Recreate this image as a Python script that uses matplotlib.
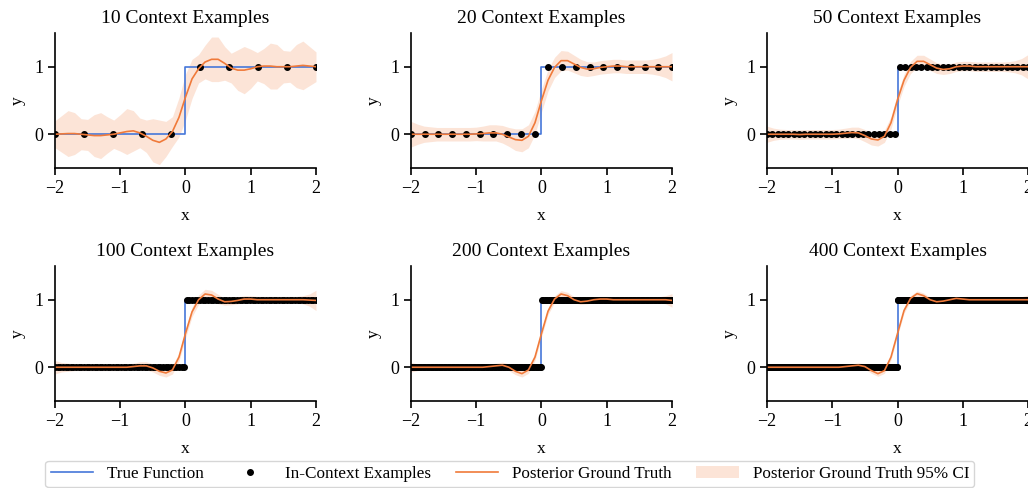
import numpy as np
import matplotlib
matplotlib.use('Agg')
import matplotlib.pyplot as plt

plt.rcParams['font.family'] = ['Liberation Serif', 'DejaVu Serif']
plt.rcParams['axes.unicode_minus'] = True

# context sizes shown in the six panels
n_context = [10, 20, 50, 100, 200, 400]

x_grid = np.round(np.linspace(-2, 2, 41), 2)

# true step function
x_true = [-2, 0, 0, 2]
y_true = [0, 0, 1, 1]

# posterior mean
mean_10 = [0.00, 0.005, 0.01, 0.01, 0.00, -0.01, -0.02, -0.02, -0.01, 0.00,
           0.02, 0.04, 0.05, 0.02, -0.03, -0.09, -0.12, -0.07, 0.04, 0.25,
           0.55, 0.82, 0.97, 1.07, 1.11, 1.11, 1.05, 0.98, 0.95, 0.95,
           0.97, 1.00, 1.01, 1.01, 1.00, 1.00, 1.00, 1.01, 1.02, 1.01, 1.00]
mean_20 = [0.00, 0.00, 0.00, 0.00, 0.00, 0.00, 0.00, 0.00, 0.00, 0.00,
           0.005, 0.01, 0.02, 0.02, 0.00, -0.04, -0.08, -0.09, -0.03, 0.17,
           0.50, 0.80, 0.99, 1.09, 1.09, 1.04, 0.99, 0.965, 0.97, 0.99,
           1.00, 1.01, 1.01, 1.00, 1.00, 1.00, 1.00, 1.00, 1.00, 1.00, 1.00]
mean_50 = [0.00, 0.00, 0.00, 0.00, 0.00, -0.005, 0.00, 0.00, 0.00, 0.00,
           0.00, 0.005, 0.015, 0.025, 0.02, -0.02, -0.07, -0.085, -0.03, 0.17,
           0.51, 0.80, 0.99, 1.08, 1.08, 1.03, 0.98, 0.96, 0.97, 1.00,
           1.01, 1.01, 1.00, 1.00, 1.00, 1.00, 1.00, 1.00, 1.00, 1.00, 1.00]
mean_100 = [0.00, 0.00, 0.00, 0.00, 0.00, 0.00, 0.00, 0.00, 0.00, 0.00,
            0.00, 0.00, 0.01, 0.02, 0.02, -0.01, -0.06, -0.085, -0.04, 0.15,
            0.50, 0.82, 1.00, 1.085, 1.07, 1.01, 0.97, 0.975, 0.99, 1.01,
            1.01, 1.00, 1.00, 1.00, 1.00, 1.00, 1.00, 1.00, 1.00, 0.995, 0.99]
mean_200 = [0.00, 0.00, 0.00, 0.00, 0.00, 0.00, 0.00, 0.00, 0.00, 0.00,
            0.00, 0.00, 0.01, 0.02, 0.03, 0.00, -0.06, -0.095, -0.04, 0.15,
            0.50, 0.83, 1.01, 1.085, 1.06, 1.00, 0.97, 0.98, 1.00, 1.01,
            1.01, 1.00, 1.00, 1.00, 1.00, 1.00, 1.00, 1.00, 1.00, 1.00, 0.99]
mean_400 = [0.00, 0.00, 0.00, 0.00, 0.00, 0.00, 0.00, 0.00, 0.00, 0.00,
            0.00, 0.00, 0.01, 0.02, 0.03, 0.01, -0.05, -0.095, -0.05, 0.15,
            0.50, 0.84, 1.02, 1.09, 1.06, 1.00, 0.97, 0.98, 1.00, 1.02,
            1.01, 1.00, 1.00, 1.00, 1.00, 1.00, 1.00, 1.00, 1.00, 1.00, 1.00]

# half-width of the 95% band
half_10 = [0.20, 0.27, 0.34, 0.31, 0.23, 0.23, 0.31, 0.34, 0.27, 0.21,
           0.27, 0.34, 0.30, 0.22, 0.24, 0.32, 0.33, 0.26, 0.22, 0.29,
           0.34, 0.29, 0.21, 0.25, 0.33, 0.33, 0.25, 0.22, 0.30, 0.35,
           0.29, 0.21, 0.26, 0.34, 0.33, 0.24, 0.23, 0.32, 0.36, 0.29, 0.22]
half_20 = [0.19, 0.15, 0.12, 0.11, 0.10, 0.10, 0.10, 0.10, 0.10, 0.10,
           0.10, 0.11, 0.12, 0.12, 0.13, 0.14, 0.16, 0.17, 0.17, 0.17,
           0.17, 0.16, 0.15, 0.15, 0.14, 0.13, 0.12, 0.11, 0.10, 0.10,
           0.10, 0.10, 0.10, 0.10, 0.10, 0.10, 0.10, 0.11, 0.13, 0.16, 0.21]
half_50 = [0.12, 0.09, 0.075, 0.07, 0.07, 0.07, 0.07, 0.07, 0.07, 0.07,
           0.07, 0.07, 0.075, 0.08, 0.085, 0.09, 0.09, 0.09, 0.09, 0.09,
           0.09, 0.09, 0.09, 0.09, 0.09, 0.085, 0.08, 0.075, 0.07, 0.07,
           0.07, 0.07, 0.07, 0.07, 0.07, 0.07, 0.07, 0.075, 0.09, 0.12, 0.18]
half_100 = [0.10, 0.07, 0.06, 0.05, 0.05, 0.05, 0.05, 0.05, 0.05, 0.05,
            0.05, 0.05, 0.05, 0.06, 0.06, 0.06, 0.06, 0.06, 0.06, 0.06,
            0.07, 0.07, 0.07, 0.07, 0.07, 0.07, 0.05, 0.05, 0.05, 0.05,
            0.05, 0.05, 0.05, 0.05, 0.05, 0.05, 0.05, 0.05, 0.06, 0.09, 0.15]
half_200 = [0.07, 0.05, 0.04, 0.04, 0.04, 0.04, 0.04, 0.04, 0.04, 0.04,
            0.04, 0.04, 0.04, 0.04, 0.045, 0.05, 0.05, 0.05, 0.05, 0.05,
            0.05, 0.05, 0.05, 0.05, 0.05, 0.045, 0.04, 0.04, 0.04, 0.04,
            0.04, 0.04, 0.04, 0.04, 0.04, 0.04, 0.04, 0.04, 0.045, 0.06, 0.10]
half_400 = [0.05, 0.04, 0.03, 0.03, 0.03, 0.03, 0.03, 0.03, 0.03, 0.03,
            0.03, 0.03, 0.03, 0.03, 0.035, 0.04, 0.04, 0.04, 0.04, 0.04,
            0.04, 0.04, 0.04, 0.04, 0.04, 0.035, 0.03, 0.03, 0.03, 0.03,
            0.03, 0.03, 0.03, 0.03, 0.03, 0.03, 0.03, 0.03, 0.035, 0.045, 0.07]

means = [mean_10, mean_20, mean_50, mean_100, mean_200, mean_400]
halves = [half_10, half_20, half_50, half_100, half_200, half_400]

blue = '#4677d9'
orange = '#f07a3a'

fig, axs = plt.subplots(2, 3, figsize=(10.28, 4.88), dpi=100)
fig.subplots_adjust(left=0.0535, right=1.0, top=0.9324, bottom=0.1783,
                    wspace=0.364, hspace=0.726)

for ax, n, mu, hw in zip(axs.flat, n_context, means, halves):
    mu = np.array(mu)
    hw = np.array(hw)
    # context points are evenly spaced over [-2, 2]
    xc = np.linspace(-2, 2, n)
    yc = (xc > 0).astype(float)

    ax.fill_between(x_grid, mu - hw, mu + hw, color=orange, alpha=0.2,
                    linewidth=0, label='Posterior Ground Truth 95% CI')
    ax.plot(x_true, y_true, color=blue, lw=1.2, label='True Function')
    ax.plot(xc, yc, 'o', color='black', ms=4, label='In-Context Examples')
    ax.plot(x_grid, mu, color=orange, lw=1.2, label='Posterior Ground Truth')

    ax.set_xlim(-2, 2)
    ax.set_ylim(-0.5, 1.5)
    ax.set_xticks([-2, -1, 0, 1, 2])
    ax.set_yticks([0, 1])
    ax.set_title(f'{n} Context Examples', fontsize=14, pad=7)
    ax.set_xlabel('x', fontsize=12.5, labelpad=8)
    ax.set_ylabel('y', fontsize=12.5, labelpad=6)
    ax.tick_params(labelsize=13, width=1.2, length=5)
    for side in ['top', 'right']:
        ax.spines[side].set_visible(False)
    for side in ['left', 'bottom']:
        ax.spines[side].set_linewidth(1.2)

handles, labels = axs[0, 0].get_legend_handles_labels()
order = [1, 2, 3, 0]
fig.legend([handles[i] for i in order], [labels[i] for i in order],
           loc='lower center', bbox_to_anchor=(0.496, -0.016), ncol=4,
           fontsize=12.3, frameon=True, edgecolor='#cccccc',
           columnspacing=1.45, handlelength=2.5, borderpad=0.3)

fig.savefig('out.png', dpi=100)
